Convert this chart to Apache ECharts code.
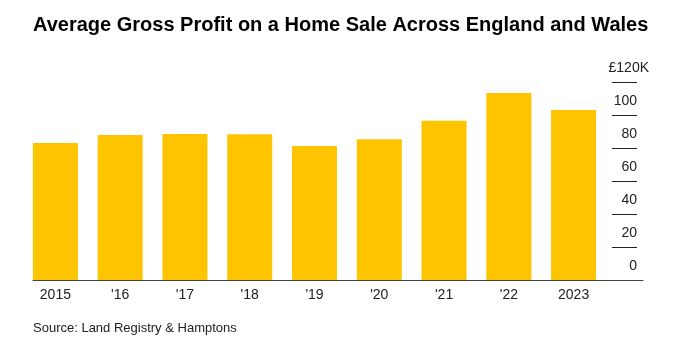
<!DOCTYPE html>
<html><head><meta charset="utf-8">
<script src="https://cdn.jsdelivr.net/npm/echarts@6/dist/echarts.min.js"></script>
<style>html,body{margin:0;padding:0;background:#fff}#c{width:685px;height:349px}</style>
</head><body><div id="c"></div>
<script>
const categories = ['2015', "'16", "'17", "'18", "'19", "'20", "'21", "'22", '2023'];
const profitK = [83.0, 87.9, 88.5, 88.3, 81.2, 85.3, 96.5, 113.3, 103.0];
const yTicks = [0, 20, 40, 60, 80, 100, 120];
const yTopLabel = '£120K';

const font = 'Liberation Sans, Arial, Helvetica, sans-serif';
const chart = echarts.init(document.getElementById('c'), null, {renderer: 'canvas'});
chart.setOption({
  animation: false,
  backgroundColor: '#fff',
  title: [{
    text: 'Average Gross Profit on a Home Sale Across England and Wales',
    left: 28, top: 10,
    textStyle: {fontFamily: font, fontWeight: 'bold', fontSize: 20, color: '#000'}
  }, {
    text: 'Source: Land Registry & Hamptons',
    left: 28, top: 317,
    textStyle: {fontFamily: font, fontWeight: 'normal', fontSize: 13, color: '#222'}
  }],
  grid: [
    {left: 23, width: 583, top: 82, height: 198},
    {left: 612, width: 25, top: 82, height: 198},
    {left: 33, width: 610, top: 82, height: 198}
  ],
  xAxis: [
    {type: 'category', gridIndex: 0, data: categories,
     axisLine: {show: false}, axisTick: {show: false},
     axisLabel: {margin: 8, fontFamily: font, fontSize: 14, color: '#222'}},
    {type: 'value', gridIndex: 1, show: false},
    {type: 'value', gridIndex: 2, min: 0, max: 1, axisLine: {show: true, onZero: false, lineStyle: {color: '#444', width: 1}},
     axisTick: {show: false}, axisLabel: {show: false}, splitLine: {show: false}}
  ],
  yAxis: [
    {type: 'value', gridIndex: 0, min: 0, max: 120, show: false},
    {type: 'value', gridIndex: 1, min: yTicks[0], max: yTicks[yTicks.length - 1], interval: 20,
     position: 'right', offset: 12,
     axisLine: {show: false}, axisTick: {show: false},
     splitLine: {show: true, lineStyle: {color: '#222', width: 1}},
     axisLabel: {inside: true, margin: 0, align: 'right', verticalAlign: 'bottom',
       formatter: v => v === 120 ? '{t|' + yTopLabel + '}' : '{n|' + v + '}',
       rich: {
         n: {fontFamily: font, fontSize: 14, color: '#222', padding: [0, 12, 7, 0]},
         t: {fontFamily: font, fontSize: 14, color: '#222', padding: [0, 0, 7, 0]}
       }}},
    {type: 'value', gridIndex: 2, show: false}
  ],
  series: [{
    type: 'bar', xAxisIndex: 0, yAxisIndex: 0, data: profitK,
    barWidth: 45, itemStyle: {color: '#ffc400'}, silent: true
  }]
});
</script></body></html>
